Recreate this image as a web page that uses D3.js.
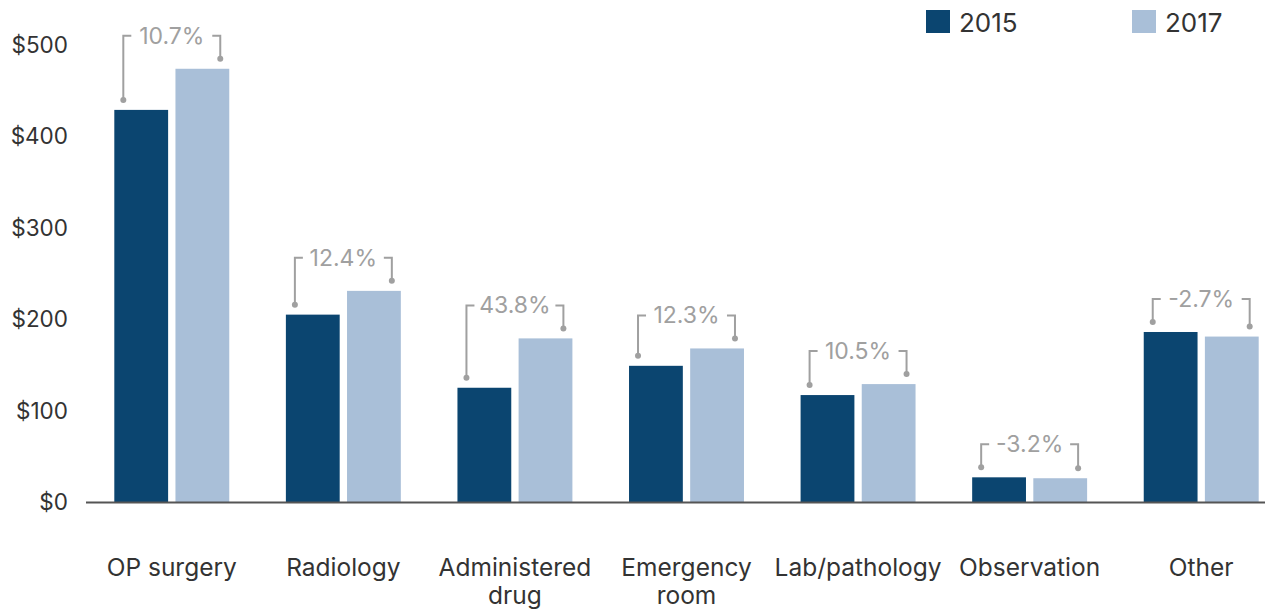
<!DOCTYPE html>
<html>
<head>
<meta charset="utf-8">
<script src="https://cdn.jsdelivr.net/npm/d3@7"></script>
<style>
  body { margin: 0; background: #fff; }
  text { font-family: Inter, "Liberation Sans", Arial, sans-serif; }
</style>
</head>
<body>
<svg id="chart" width="1272" height="609"></svg>
<script>
// Chart data
const categories = ["OP surgery", "Radiology", "Administered\ndrug", "Emergency\nroom", "Lab/pathology", "Observation", "Other"];
const years = ["2015", "2017"];
const values2015 = [429, 205, 125, 149, 117, 27, 186];
const values2017 = [474, 231, 179, 168, 129, 26, 181];
const changeLabels = ["10.7%", "12.4%", "43.8%", "12.3%", "10.5%", "-3.2%", "-2.7%"];
const yTicks = [0, 100, 200, 300, 400, 500];

const colors = { "2015": "#0b4570", "2017": "#a9bfd8" };

const svg = d3.select("#chart");

// Scales
const x = d3.scaleBand().domain(categories).range([86, 1287]).paddingInner(0.33).paddingOuter(0.165);
const xInner = d3.scaleBand().domain(years).range([0, x.bandwidth()]).paddingInner(0.12);
const y = d3.scaleLinear().domain([0, 500]).range([502, 45]);

// Y axis labels (no line)
svg.append("g")
  .selectAll("text")
  .data(yTicks)
  .enter()
  .append("text")
  .attr("x", 68)
  .attr("y", d => y(d) + 8)
  .attr("text-anchor", "end")
  .style("font-size", "22.5px")
  .style("fill", "#333")
  .text(d => "$" + d);

// Bars
const rows = categories.map((c, i) => ({ cat: c, v2015: values2015[i], v2017: values2017[i], label: changeLabels[i] }));

const groups = svg.append("g")
  .selectAll("g")
  .data(rows)
  .enter()
  .append("g")
  .attr("transform", d => "translate(" + x(d.cat) + ",0)");

groups.selectAll("rect")
  .data(d => years.map(yr => ({ yr: yr, v: d["v" + yr] })))
  .enter()
  .append("rect")
  .attr("x", d => xInner(d.yr))
  .attr("y", d => y(d.v))
  .attr("width", xInner.bandwidth())
  .attr("height", d => y(0) - y(d.v))
  .attr("fill", d => colors[d.yr]);

// X axis line
svg.append("line")
  .attr("x1", 86).attr("x2", 1265)
  .attr("y1", 502.5).attr("y2", 502.5)
  .attr("stroke", "#555")
  .attr("stroke-width", 2);

// Change brackets
const inset = 9;
const bracketColor = "#a0a0a0";
groups.each(function(d) {
  const g = d3.select(this);
  const xl = xInner("2015") + inset;
  const xr = xInner("2017") + xInner.bandwidth() - inset;
  const yl = y(d.v2015) - 10;
  const yr = y(d.v2017) - 10;
  const top = Math.min(y(d.v2015), y(d.v2017)) - 33;
  const cx = x.bandwidth() / 2;

  g.append("path")
    .attr("d", "M" + xl + "," + yl + "V" + top + "H" + (xl + 8))
    .attr("fill", "none").attr("stroke", bracketColor).attr("stroke-width", 2);
  g.append("path")
    .attr("d", "M" + xr + "," + yr + "V" + top + "H" + (xr - 8))
    .attr("fill", "none").attr("stroke", bracketColor).attr("stroke-width", 2);
  g.append("circle").attr("cx", xl).attr("cy", yl).attr("r", 3).attr("fill", bracketColor);
  g.append("circle").attr("cx", xr).attr("cy", yr).attr("r", 3).attr("fill", bracketColor);

  g.append("text")
    .attr("x", cx)
    .attr("y", top + 8)
    .attr("text-anchor", "middle")
    .style("font-size", "23px")
    .style("fill", bracketColor)
    .text(d.label);
});

// Category labels
svg.append("g")
  .selectAll("text")
  .data(categories)
  .enter()
  .append("text")
  .attr("text-anchor", "middle")
  .attr("x", d => x(d) + x.bandwidth() / 2)
  .attr("y", 576)
  .style("font-size", "24.5px")
  .style("fill", "#333")
  .each(function(d) {
    const t = d3.select(this);
    d.split("\n").forEach((line, i) => {
      t.append("tspan")
        .attr("x", x(d) + x.bandwidth() / 2)
        .attr("dy", i === 0 ? 0 : 28)
        .text(line);
    });
  });

// Legend
const legendX = [926, 1132];
const legend = svg.append("g")
  .selectAll("g")
  .data(years)
  .enter()
  .append("g")
  .attr("transform", (d, i) => "translate(" + legendX[i] + ",10)");

legend.append("rect")
  .attr("width", 24).attr("height", 23)
  .attr("fill", d => colors[d]);

legend.append("text")
  .attr("x", 33)
  .attr("y", 22)
  .style("font-size", "26px")
  .style("fill", "#333")
  .text(d => d);
</script>
</body>
</html>
